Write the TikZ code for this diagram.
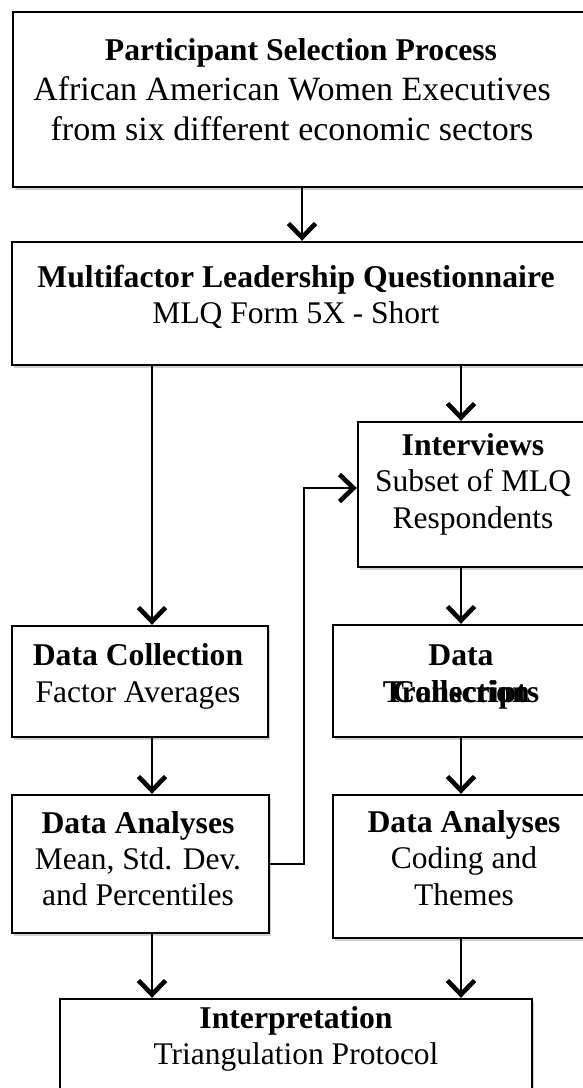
\documentclass[tikz,border=0pt]{standalone}
\usepackage{fontspec}
\setmainfont{Liberation Serif}
\usetikzlibrary{arrows.meta,shadows}
\begin{document}
\begin{tikzpicture}[x=1pt,y=-1pt,
  box/.style={draw=black, line width=2.4pt, fill=white, inner sep=0pt,
    drop shadow={shadow xshift=1.5pt, shadow yshift=-3pt, fill=black, opacity=0.18}},
  ttl/.style={anchor=base, inner sep=0pt, font=\fontsize{31.7}{36}\selectfont\bfseries},
  txt/.style={anchor=base, inner sep=0pt, font=\fontsize{31.5}{36}\selectfont},
  bigtxt/.style={anchor=base, inner sep=0pt, font=\fontsize{34}{40}\selectfont},
  arr/.style={line width=2.2pt, -{Straight Barb[length=14pt, width=27pt, line width=4.6pt]}}
]
\useasboundingbox[fill=white] (0,0) rectangle (583,1088);

% boxes
\node[box, minimum width=587pt, minimum height=175pt] (b1) at (306.5,99.5) {};
\node[box, minimum width=588pt, minimum height=123pt] (b2) at (306,303.5) {};
\node[box, minimum width=242pt, minimum height=145pt] (iv) at (479,494.5) {};
\node[box, minimum width=256pt, minimum height=111pt] (dc) at (140,681.5) {};
\node[box, minimum width=267pt, minimum height=112pt] (dt) at (466.5,681) {};
\node[box, minimum width=257pt, minimum height=138pt] (dal) at (140.5,864) {};
\node[box, minimum width=267pt, minimum height=143pt] (dar) at (466.5,866.5) {};
\node[box, minimum width=472pt, minimum height=111pt] (ip) at (296,1054.5) {};

% texts
\node[ttl] (t1a) at (301,60) {Participant Selection Process};
\node[bigtxt] (t1b) at (292,100) {African American Women Executives};
\node[bigtxt] (t1c) at (292,140) {from six different economic sectors};

\node[ttl] (t2a) at (296,287) {Multifactor Leadership Questionnaire};
\node[txt] (t2b) at (296,323) {MLQ Form 5X - Short};

\node[ttl] (tiva) at (473,455) {Interviews};
\node[txt] (tivb) at (473,491) {Subset of MLQ};
\node[txt] (tivc) at (473,528) {Respondents};

\node[ttl] (tdca) at (138,665) {Data Collection};
\node[txt] (tdcb) at (138,702) {Factor Averages};

\node[ttl] (tdta) at (461,665) {Data};
\node[ttl] (tdtb) at (461,702) {Collection};
\node[ttl] (tdtc) at (461,702) {Transcripts};

\node[ttl] (tdala) at (138,833) {Data Analyses};
\node[txt] (tdalb) at (138,869) {Mean, Std. Dev.};
\node[txt] (tdalc) at (138,905) {and Percentiles};

\node[ttl] (tdara) at (464,832) {Data Analyses};
\node[txt] (tdarb) at (464,868) {Coding and};
\node[txt] (tdarc) at (464,905) {Themes};

\node[ttl] (tipa) at (296,1028) {Interpretation};
\node[txt] (tipb) at (296,1064) {Triangulation Protocol};

% columns
\coordinate (colM) at (302,0);
\coordinate (colL) at (152,0);
\coordinate (colR) at (461,0);
\coordinate (jog) at (304,488);

% connectors
\draw[arr] (b1.south -| colM) -- (b2.north -| colM);
\draw[arr] (b2.south -| colL) -- (dc.north -| colL);
\draw[arr] (b2.south -| colR) -- (iv.north -| colR);
\draw[arr] (iv.south -| colR) -- (dt.north -| colR);
\draw[arr] (dc.south -| colL) -- (dal.north -| colL);
\draw[arr] (dt.south -| colR) -- (dar.north -| colR);
\draw[arr] (dal.south -| colL) -- (ip.north -| colL);
\draw[arr] (dar.south -| colR) -- (ip.north -| colR);
\draw[arr] (dal.east) -| (jog) -- (iv.west |- jog);
\end{tikzpicture}
\end{document}
